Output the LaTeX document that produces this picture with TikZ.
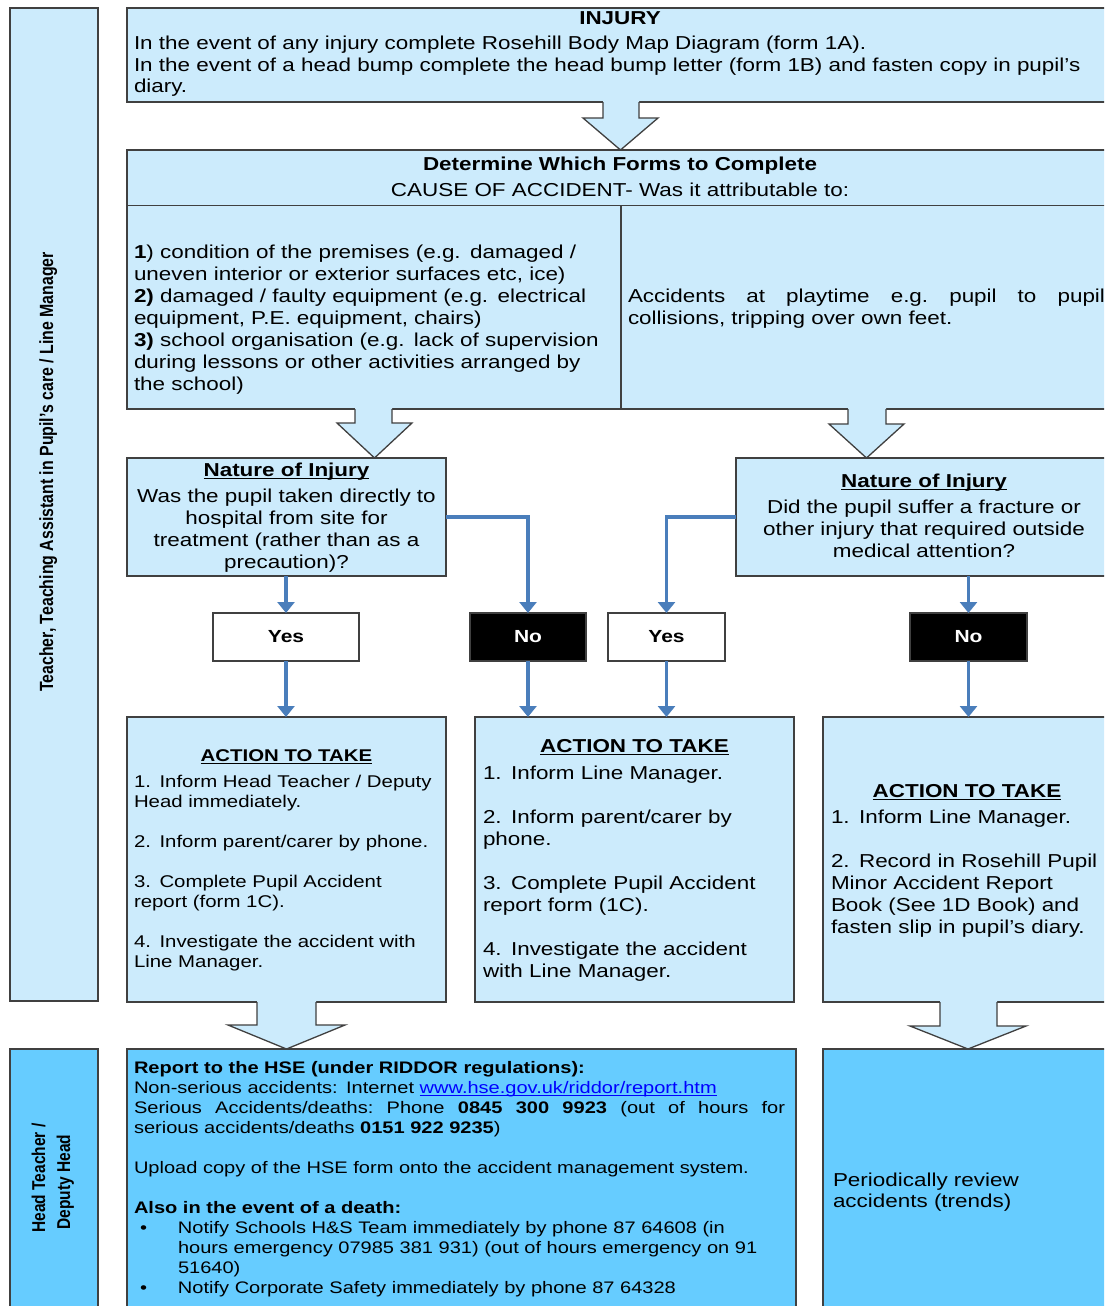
\documentclass[tikz,border=0pt]{standalone}
\usepackage{fontspec}
\setmainfont{Liberation Sans}[FakeStretch=1.2]
\newfontfamily\lanefont{Liberation Sans}
\usetikzlibrary{arrows.meta}
\definecolor{lightblue}{RGB}{204,235,252}
\definecolor{hseblue}{RGB}{102,204,255}
\definecolor{bordergray}{RGB}{64,64,64}
\definecolor{arrowblue}{RGB}{74,126,187}
\definecolor{linkblue}{RGB}{0,0,255}
\newsavebox\myulbox
\newcommand{\myul}[2][1.1pt]{\leavevmode\sbox\myulbox{#2}\rlap{\rule[-2.6pt]{\wd\myulbox}{#1}}\usebox\myulbox}
\newcommand{\fs}[2]{\fontsize{#1}{#2}\selectfont}
\newcommand{\blkarrow}[7]{%
  \pgfmathsetmacro\tipx{(#5+#6)/2}%
  \fill[lightblue] (#1,#3-1.5) -- (#1,#4) -- (#5,#4) -- (\tipx,#7) -- (#6,#4) -- (#2,#4) -- (#2,#3-1.5) -- cycle;
  \draw[blkline] (#1,#3) -- (#1,#4) -- (#5,#4) -- (\tipx,#7) -- (#6,#4) -- (#2,#4) -- (#2,#3);}
\begin{document}
\begin{tikzpicture}[x=1pt,y=-1pt,
  box/.style={draw=bordergray, line width=1.3pt, fill=lightblue, inner sep=0pt, outer sep=0pt, anchor=north west},
  hsebox/.style={box, fill=hseblue},
  yesbox/.style={draw=bordergray, line width=1.3pt, fill=white, inner sep=0pt, outer sep=0pt, anchor=north west, font=\bfseries\fs{17.5}{20}},
  nobox/.style={yesbox, fill=black, text=white},
  blkline/.style={draw=bordergray, line width=1.3pt, line join=miter},
  barrow/.style={draw=arrowblue, line width=3.5pt, -{Triangle[width=17pt,length=11pt]}},
  tx/.style={inner sep=0pt, outer sep=0pt, anchor=north west, align=left, text width=#1, execute at begin node={\strut}},
  tc/.style={inner sep=0pt, outer sep=0pt, anchor=north, align=center, text width=#1, execute at begin node={\strut}},
  big/.style={font=\fs{18.7}{22}},
  mid/.style={font=\fs{17}{20}},
  small/.style={font=\fs{16.7}{20}},
  lanelab/.style={inner sep=0pt, outer sep=0pt, rotate=90, yscale=1.2, anchor=base, font=\lanefont\bfseries\fs{15.9}{18}}
]
\useasboundingbox (0,0) rectangle (1104,1306);
\clip (0,0) rectangle (1104,1306);
\fill[white] (0,0) rectangle (1104,1306);

% lanes
\node[box, minimum width=88pt, minimum height=993pt] (lane1) at (10,8) {};
\node[hsebox, minimum width=88pt, minimum height=280pt] (lane2) at (10,1049) {};
\node[lanelab] (lane1t) at (53,472) {Teacher, Teaching Assistant in Pupil’s care / Line Manager};
\node[lanelab, font=\lanefont\bfseries\fs{15.5}{18}] (lane2a) at (45,1178) {Head Teacher /};
\node[lanelab, font=\lanefont\bfseries\fs{15.5}{18}] (lane2b) at (70,1182) {Deputy Head};

% main boxes
\node[box, minimum width=990pt, minimum height=94pt] (inj) at (127,8) {};
\node[box, minimum width=990pt, minimum height=259pt] (det) at (127,150) {};
\draw[bordergray, line width=1.3pt] (127,205.5) -- (1117,205.5);
\draw[bordergray, line width=1.3pt] (621,205.5) -- (621,409);
\node[box, minimum width=319pt, minimum height=118pt] (nL) at (127,458) {};
\node[box, minimum width=376pt, minimum height=118pt] (nR) at (736,458) {};
\node[yesbox, minimum width=146pt, minimum height=48pt] (yesL) at (213,613) {Yes};
\node[nobox, minimum width=116pt, minimum height=48pt] (noL) at (470,613) {No};
\node[yesbox, minimum width=117pt, minimum height=48pt] (yesR) at (608,613) {Yes};
\node[nobox, minimum width=117pt, minimum height=48pt] (noR) at (910,613) {No};
\node[box, minimum width=319pt, minimum height=285pt] (a1) at (127,717) {};
\node[box, minimum width=319pt, minimum height=285pt] (a2) at (475,717) {};
\node[box, minimum width=289pt, minimum height=285pt] (a3) at (823,717) {};
\node[hsebox, minimum width=669pt, minimum height=280pt] (hse) at (127,1049) {};
\node[hsebox, minimum width=289pt, minimum height=280pt] (per) at (823,1049) {};

% block arrows
\blkarrow{603}{639}{102}{118}{583}{658}{150}
\blkarrow{355}{392}{409}{423}{337}{412}{458}
\blkarrow{848}{886}{409}{424}{829}{904}{458}
\blkarrow{257}{316}{1002}{1025}{228}{345}{1049}
\blkarrow{940}{997}{1002}{1026}{910}{1026}{1049}

% blue connectors
\draw[barrow] (nL.south -| yesL.north) -- (yesL.north);
\draw[barrow] (nL.east) -| (noL.north);
\draw[barrow] (nR.west) -| (yesR.north);
\draw[barrow] (nR.south -| noR.north) -- (noR.north);
\draw[barrow] (yesL.south) -- (yesL.south |- a1.north);
\draw[barrow] (noL.south) -- (noL.south |- a2.north);
\draw[barrow] (yesR.south) -- (yesR.south |- a2.north);
\draw[barrow] (noR.south) -- (noR.south |- a3.north);

% texts
\node[tc=300pt, big] (injT) at (620,9.2) {\bfseries INJURY};
\node[tx=1000pt, font=\fs{18.7}{21.5}] (injB) at (134,34.45) {In the event of any injury complete Rosehill Body Map Diagram (form 1A).\\
In the event of a head bump complete the head bump letter (form 1B) and fasten copy in pupil’s\\
diary.};

\node[tc=700pt, big] (detT1) at (620,154.6) {\bfseries Determine Which Forms to Complete};
\node[tc=700pt, big] (detT2) at (620,180.6) {CAUSE OF ACCIDENT- Was it attributable to:};
\node[tx=560pt, big] (detL) at (134,242.6) {\textbf{1}) condition of the premises (e.g. damaged /\\
uneven interior or exterior surfaces etc, ice)\\
\textbf{2)} damaged / faulty equipment (e.g. electrical\\
equipment, P.E. equipment, chairs)\\
\textbf{3)} school organisation (e.g. lack of supervision\\
during lessons or other activities arranged by\\
the school)};
\node[tx=560pt, big] (detR) at (628,286.6) {\makebox[477pt][l]{Accidents\hfill at\hfill playtime\hfill e.g.\hfill pupil\hfill to\hfill pupil}\\
collisions, tripping over own feet.};

\node[tc=330pt, big] (nLt) at (286.5,460.6) {\myul{\textbf{Nature of Injury}}};
\node[tc=330pt, big] (nLb) at (286.5,486.6) {Was the pupil taken directly to\\
hospital from site for\\
treatment (rather than as a\\
precaution)?};
\node[tc=370pt, big] (nRt) at (924,471.6) {\myul{\textbf{Nature of Injury}}};
\node[tc=370pt, big] (nRb) at (924,497.9) {Did the pupil suffer a fracture or\\
other injury that required outside\\
medical attention?};

\node[tc=310pt, mid] (a1T) at (286.5,747.7) {\myul{\textbf{ACTION TO TAKE}}};
\node[tx=330pt, mid] (a1B) at (134,773.3) {1. Inform Head Teacher / Deputy\\
Head immediately.\\[20pt]
2. Inform parent/carer by phone.\\[20pt]
3. Complete Pupil Accident\\
report (form 1C).\\[20pt]
4. Investigate the accident with\\
Line Manager.};

\node[tc=310pt, big] (a2T) at (634.5,737.3) {\myul{\textbf{ACTION TO TAKE}}};
\node[tx=330pt, big] (a2B) at (483,763.9) {1. Inform Line Manager.\\[22pt]
2. Inform parent/carer by\\
phone.\\[22pt]
3. Complete Pupil Accident\\
report form (1C).\\[22pt]
4. Investigate the accident\\
with Line Manager.};

\node[tc=280pt, big] (a3T) at (967,781.9) {\myul{\textbf{ACTION TO TAKE}}};
\node[tx=300pt, big] (a3B) at (831,807.9) {1. Inform Line Manager.\\[22pt]
2. Record in Rosehill Pupil\\
Minor Accident Report\\
Book (See 1D Book) and\\
fasten slip in pupil’s diary.};

\node[tx=700pt, small] (hseB) at (134,1059.3) {\textbf{Report to the HSE (under RIDDOR regulations):}\\
Non-serious accidents: Internet \textcolor{linkblue}{\myul[0.8pt]{www.hse.gov.uk/riddor/report.htm}}\\
\makebox[651pt][l]{Serious\hfill Accidents/deaths:\hfill Phone\hfill \textbf{0845}\hfill \textbf{300}\hfill \textbf{9923}\hfill (out\hfill of\hfill hours\hfill for}\\
serious accidents/deaths \textbf{0151 922 9235})\\[20pt]
Upload copy of the HSE form onto the accident management system.\\[20pt]
\textbf{Also in the event of a death:}\\
\makebox[44pt][l]{\hspace*{6pt}\textbullet}Notify Schools H\&S Team immediately by phone 87 64608 (in\\
\hspace*{44pt}hours emergency 07985 381 931) (out of hours emergency on 91\\
\hspace*{44pt}51640)\\
\makebox[44pt][l]{\hspace*{6pt}\textbullet}Notify Corporate Safety immediately by phone 87 64328};

\node[tx=270pt, font=\fs{18.7}{21}] (perB) at (833,1171.3) {Periodically review\\
accidents (trends)};
\end{tikzpicture}
\end{document}
